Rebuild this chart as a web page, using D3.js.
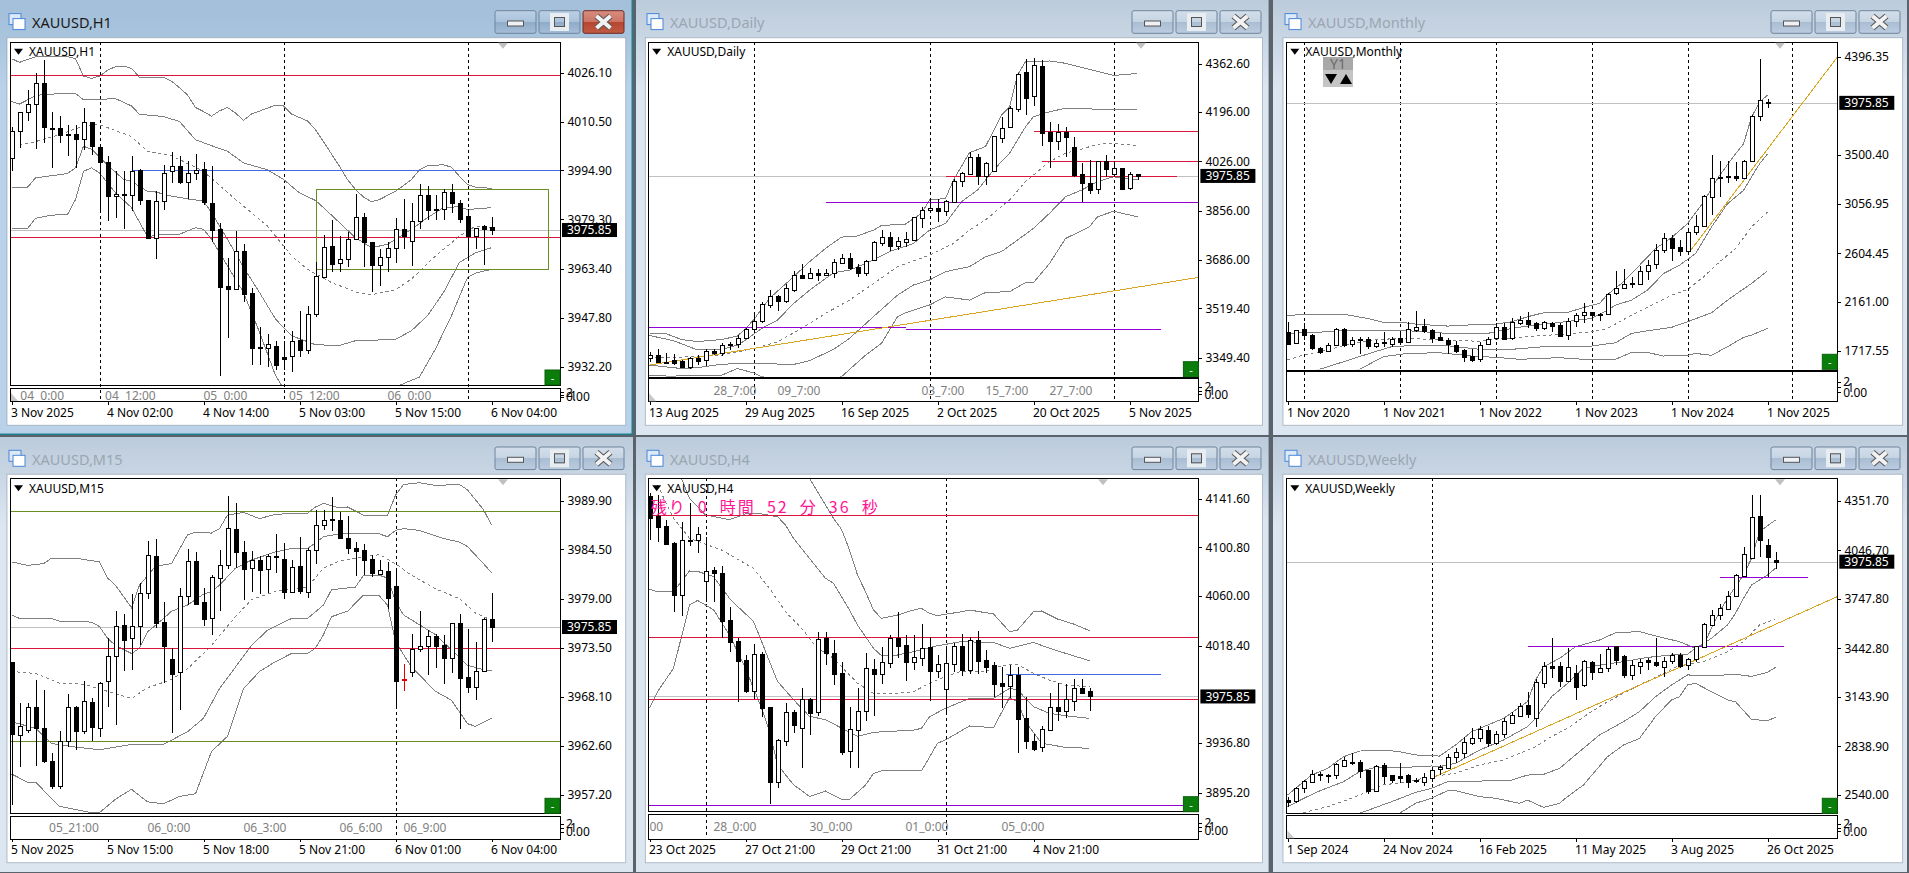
<!DOCTYPE html>
<html lang="en">

<head>
    <meta charset="UTF-8">
    <script src="https://d3js.org/d3.v7.min.js"></script>
    <title>XAUUSD charts</title>
    <style>
        body { margin: 0; background: #5a626c; overflow: hidden; }
        svg { display: block; }
        text { font-family: "Noto Sans", "Open Sans", sans-serif; font-size: 12px; fill: #000; }
        .axis path { display: none; }
        .axis line { stroke: #000; shape-rendering: crispEdges; }
        .axis text { font-size: 12px; font-family: "Noto Sans", sans-serif; fill: #000; }
    </style>
</head>

<body>
    <script>
        // bars are [open, high, low, close]
        const h1Bars = [
            [3998.9, 4008.9, 3994.6, 4007.6], [4007.6, 4013.4, 4002.0, 4013.4], [4013.4, 4020.6, 4010.8, 4016.0], [4016.0, 4025.9, 4001.7, 4022.7], [4022.7, 4030.3, 4003.6, 4008.6],
            [4008.4, 4013.5, 3995.7, 4008.3], [4008.5, 4012.3, 4003.6, 4006.1], [4006.5, 4009.5, 3999.4, 4006.1], [4006.6, 4009.5, 3995.7, 4004.8], [4004.8, 4014.8, 4001.5, 4010.3],
            [4010.3, 4010.3, 3999.7, 4002.6], [4002.5, 4002.5, 3982.2, 3997.5], [3997.6, 3999.4, 3978.7, 3986.7], [3986.7, 3994.8, 3979.8, 3987.5], [3987.5, 3994.6, 3976.1, 3987.1],
            [3987.0, 3999.6, 3981.9, 3994.7], [3994.9, 3995.4, 3983.7, 3985.6], [3985.5, 3985.6, 3973.1, 3973.3], [3973.3, 3988.2, 3966.5, 3985.2], [3985.2, 3996.5, 3982.4, 3994.1],
            [3994.6, 4000.9, 3990.9, 3996.2], [3996.4, 3999.4, 3990.7, 3991.1], [3991.1, 3997.8, 3985.9, 3994.2], [3994.1, 4000.1, 3991.7, 3995.1], [3995.4, 3997.5, 3983.7, 3984.8],
            [3984.5, 3996.4, 3972.0, 3975.8], [3976.1, 3978.0, 3929.1, 3957.7], [3957.9, 3967.0, 3941.4, 3957.1], [3957.1, 3975.7, 3957.0, 3969.3], [3969.3, 3971.3, 3953.0, 3955.5],
            [3955.6, 3957.2, 3932.8, 3938.3], [3938.4, 3944.8, 3932.6, 3938.1], [3938.1, 3942.7, 3932.1, 3939.3], [3938.7, 3940.5, 3931.0, 3932.6], [3935.2, 3940.5, 3931.2, 3934.8],
            [3935.6, 3943.5, 3930.5, 3940.3], [3940.7, 3949.9, 3935.2, 3937.5], [3937.5, 3951.5, 3936.1, 3948.9], [3948.9, 3965.5, 3948.0, 3961.2], [3961.0, 3974.2, 3960.4, 3970.5],
            [3970.9, 3978.9, 3962.5, 3965.0], [3965.4, 3973.9, 3962.3, 3966.7], [3966.7, 3975.2, 3963.9, 3973.1], [3973.1, 3987.5, 3973.1, 3980.1], [3980.1, 3981.4, 3963.9, 3972.1],
            [3972.1, 3972.1, 3956.1, 3964.7], [3964.7, 3969.7, 3958.0, 3967.3], [3967.3, 3972.0, 3962.5, 3970.0], [3970.1, 3979.8, 3965.2, 3976.2], [3976.3, 3985.9, 3969.7, 3973.8],
            [3972.5, 3984.5, 3964.4, 3978.8], [3978.8, 3990.6, 3976.1, 3987.1], [3987.1, 3989.8, 3979.2, 3982.2], [3982.6, 3986.9, 3979.0, 3982.2], [3982.6, 3989.0, 3979.2, 3988.0],
            [3988.1, 3990.4, 3981.4, 3984.4], [3984.6, 3985.3, 3978.0, 3979.5], [3980.4, 3982.6, 3967.0, 3973.8], [3973.9, 3976.5, 3969.7, 3976.5], [3977.0, 3977.4, 3964.7, 3976.3],
            [3976.9, 3979.9, 3974.3, 3975.85]
        ];
        const h1Upper2 = [[0, 4030.6], [1, 4029.4], [3, 4031.2], [4, 4031.4], [7, 4031.2], [8, 4030.6], [9, 4025.0], [10, 4024.3], [11, 4025.0], [12, 4026.9], [13, 4028.0], [14, 4028.2], [15, 4027.5], [16, 4024.6], [19, 4024.6], [20, 4023.4], [21, 4021.3], [22, 4019.0], [23, 4015.0], [24, 4013.7], [25, 4012.2], [26, 4013.9], [27, 4015.0], [28, 4013.2], [29, 4010.9], [30, 4012.9], [32, 4014.8], [33, 4015.7], [34, 4015.5], [35, 4012.9], [37, 4010.7], [38, 4007.9], [39, 4004.1], [40, 4000.1], [41, 3996.2], [42, 3992.0], [43, 3988.8], [44, 3986.4], [45, 3984.9], [46, 3985.6], [48, 3988.2], [50, 3992.0], [51, 3995.1], [52, 3996.4], [54, 3996.7], [55, 3995.9], [56, 3993.0], [57, 3990.4], [58, 3989.5], [59, 3989.5], [60, 3989.0]];
        const h1Upper1 = [[0, 4016.9], [1, 4016.1], [3, 4018.7], [4, 4019.2], [8, 4019.5], [9, 4017.4], [13, 4017.8], [15, 4015.5], [16, 4012.8], [19, 4012.1], [21, 4010.5], [23, 4004.7], [25, 4002.8], [27, 4001.0], [29, 3997.3], [32, 3995.1], [34, 3992.0], [36, 3987.7], [38, 3985.3], [39, 3983.0], [41, 3978.2], [43, 3973.4], [45, 3970.2], [47, 3971.3], [50, 3976.1], [52, 3979.8], [54, 3983.0], [56, 3983.3], [57, 3982.4], [60, 3983.0]];
        const h1Mid = [[1, 4002.9], [3, 4004.1], [6, 4006.3], [9, 4009.1], [11, 4009.5], [15, 4005.7], [17, 4001.0], [20, 3999.6], [24, 3994.6], [28, 3985.6], [32, 3977.1], [35, 3967.6], [37, 3963.3], [40, 3959.1], [43, 3956.1], [45, 3955.2], [48, 3956.8], [50, 3960.2], [53, 3967.6], [56, 3973.9], [58, 3977.1], [60, 3976.7]];
        const h1Lower1 = [[0, 3989.5], [2, 3989.5], [3, 3992.5], [7, 3993.9], [8, 3995.7], [9, 4002.6], [10, 4001.7], [12, 3996.7], [14, 3992.0], [15, 3991.4], [17, 3988.2], [18, 3988.0], [20, 3986.7], [22, 3985.8], [24, 3985.1], [25, 3981.4], [27, 3972.9], [29, 3963.9], [31, 3955.9], [33, 3947.4], [35, 3942.1], [38, 3939.2], [41, 3939.0], [43, 3940.5], [48, 3940.9], [50, 3943.7], [52, 3948.5], [54, 3955.9], [56, 3965.5], [58, 3968.6], [60, 3970.2]];
        const h1Lower2 = [[0, 3976.3], [2, 3976.3], [3, 3979.6], [5, 3980.6], [7, 3980.8], [8, 3985.6], [9, 3994.6], [10, 3995.7], [11, 3994.1], [13, 3987.7], [15, 3983.0], [17, 3973.7], [19, 3974.5], [21, 3974.5], [23, 3976.6], [24, 3976.1], [25, 3972.9], [27, 3964.4], [29, 3955.9], [31, 3943.2], [33, 3929.4], [34, 3925.2], [38, 3922], [45, 3922], [49, 3926.8], [51, 3928.9], [53, 3937.9], [55, 3948.5], [57, 3960.7], [58, 3962.1], [60, 3963.3]];

        const dailyBars = [
            [3350, 3370, 3335, 3358], [3357, 3378, 3330, 3333], [3336, 3364, 3330, 3334], [3340, 3361, 3324, 3332], [3339, 3343, 3315, 3316], [3318, 3353, 3312, 3349], [3350, 3358, 3324, 3339], [3340, 3381, 3322, 3374],
            [3374, 3379, 3358, 3366], [3365, 3399, 3355, 3394], [3397, 3404, 3376, 3394], [3397, 3427, 3384, 3419], [3419, 3453, 3415, 3449], [3449, 3508, 3444, 3477], [3476, 3542, 3470, 3533], [3532, 3582, 3519, 3561],
            [3561, 3565, 3510, 3544], [3546, 3603, 3539, 3588], [3581, 3649, 3577, 3636], [3635, 3674, 3623, 3625], [3623, 3657, 3623, 3640], [3643, 3654, 3615, 3635], [3633, 3654, 3632, 3643], [3642, 3688, 3623, 3680],
            [3675, 3706, 3671, 3692], [3692, 3709, 3651, 3659], [3661, 3674, 3628, 3641], [3643, 3686, 3632, 3683], [3687, 3752, 3686, 3747], [3746, 3791, 3734, 3764], [3767, 3781, 3717, 3735], [3735, 3766, 3720, 3751],
            [3749, 3783, 3732, 3760], [3756, 3835, 3755, 3833], [3832, 3870, 3795, 3860], [3859, 3898, 3856, 3867], [3867, 3898, 3818, 3856], [3856, 3893, 3837, 3888], [3887, 3964, 3885, 3960], [3959, 3990, 3939, 3985],
            [3982, 4059, 3979, 4040], [4042, 4053, 3944, 3975], [3976, 4025, 3944, 4019], [3994, 4113, 3990, 4112], [4107, 4180, 4090, 4142], [4143, 4217, 4140, 4209], [4207, 4329, 4197, 4326], [4333, 4380, 4186, 4245],
            [4252, 4382, 4217, 4357], [4353, 4374, 4080, 4125], [4126, 4161, 4004, 4097], [4095, 4155, 4065, 4126], [4127, 4143, 4042, 4111], [4075, 4109, 3973, 3979], [3981, 4019, 3887, 3952], [3951, 4030, 3913, 3928],
            [3932, 4027, 3913, 4026], [4026, 4048, 3973, 4001], [3983, 4027, 3973, 4002], [4002, 4004, 3927, 3931], [3934, 3990, 3927, 3981], [3981, 3982, 3962, 3975.85]
        ];
        const dailyUpper2 = [[0, 3433], [2, 3433], [4, 3412], [6, 3405], [9, 3412], [11, 3424], [12, 3450], [13, 3479], [15, 3554], [18, 3628], [20, 3680], [22, 3726], [24, 3765], [26, 3769], [28, 3789], [29, 3805], [32, 3810], [34, 3847], [35, 3893], [37, 3898], [38, 3962], [40, 4056], [42, 4077], [44, 4186], [45, 4214], [46, 4324], [47, 4369], [49, 4369], [50, 4372], [52, 4364], [55, 4343], [58, 4322], [61, 4329]];
        const dailyUpper1 = [[0, 3426], [3, 3408], [6, 3376], [9, 3378], [11, 3393], [12, 3410], [14, 3450], [16, 3479], [18, 3536], [20, 3582], [23, 3642], [25, 3651], [28, 3686], [30, 3715], [33, 3743], [35, 3789], [37, 3812], [39, 3887], [41, 3927], [43, 3996], [45, 4054], [47, 4145], [48, 4180], [50, 4197], [52, 4209], [56, 4206], [61, 4205]];
        const dailyMid = [[0, 3349], [6, 3353], [9, 3358], [13, 3381], [16, 3404], [19, 3450], [22, 3502], [25, 3548], [28, 3605], [31, 3663], [35, 3703], [38, 3743], [40, 3789], [42, 3824], [45, 3893], [47, 3956], [50, 4025], [52, 4054], [54, 4068], [56, 4085], [58, 4088], [61, 4080]];
        const dailyLower1 = [[0, 3324], [4, 3312], [6, 3315], [9, 3327], [13, 3330], [18, 3326], [20, 3339], [23, 3378], [25, 3416], [28, 3491], [31, 3565], [33, 3600], [35, 3617], [37, 3646], [40, 3663], [42, 3697], [44, 3715], [46, 3755], [48, 3795], [50, 3847], [52, 3904], [54, 3927], [56, 3956], [58, 3973], [61, 3962]];
        const dailyLower2 = [[0, 3287], [3, 3286], [4, 3287], [9, 3289], [11, 3312], [13, 3297], [14, 3284], [20, 3261], [24, 3284], [27, 3358], [29, 3399], [31, 3491], [32, 3504], [35, 3531], [37, 3559], [40, 3548], [42, 3574], [45, 3577], [47, 3608], [48, 3608], [50, 3674], [52, 3760], [55, 3801], [56, 3835], [58, 3854], [61, 3835]];

        const monthlyBars = [
            [1884, 1975, 1769, 1778], [1784, 1905, 1775, 1902], [1911, 1966, 1814, 1857], [1860, 1866, 1723, 1739], [1745, 1754, 1684, 1708], [1714, 1790, 1708, 1772], [1772, 1920, 1766, 1911], [1914, 1920, 1754, 1769],
            [1775, 1839, 1754, 1817], [1820, 1839, 1687, 1814], [1820, 1839, 1730, 1763], [1760, 1814, 1739, 1790], [1796, 1884, 1754, 1784], [1781, 1845, 1754, 1827], [1836, 1875, 1784, 1799], [1799, 1981, 1790, 1911],
            [1908, 2075, 1890, 1936], [1939, 2002, 1875, 1896], [1902, 1917, 1790, 1836], [1839, 1881, 1808, 1811], [1811, 1830, 1684, 1775], [1772, 1808, 1699, 1717], [1723, 1730, 1617, 1663], [1666, 1730, 1617, 1633],
            [1639, 1799, 1617, 1772], [1775, 1845, 1769, 1827], [1830, 1966, 1814, 1930], [1930, 1972, 1814, 1827], [1830, 2011, 1814, 1975], [1972, 2033, 1951, 1996], [1993, 2066, 1927, 1960], [1969, 1981, 1899, 1920],
            [1920, 1987, 1905, 1975], [1972, 1981, 1887, 1945], [1951, 1966, 1845, 1851], [1857, 2011, 1814, 1990], [1990, 2057, 1930, 2039], [2039, 2148, 1972, 2066], [2066, 2072, 2002, 2042], [2054, 2063, 1990, 2048],
            [2048, 2245, 2042, 2236], [2245, 2442, 2223, 2293], [2290, 2460, 2284, 2326], [2326, 2390, 2293, 2333], [2326, 2487, 2314, 2448], [2448, 2542, 2360, 2502], [2508, 2687, 2466, 2639], [2639, 2793, 2611, 2745],
            [2745, 2769, 2533, 2654], [2660, 2729, 2578, 2626], [2629, 2814, 2587, 2799], [2799, 2951, 2769, 2854], [2854, 3132, 2845, 3126], [3117, 3505, 2951, 3293], [3290, 3442, 3117, 3296], [3305, 3445, 3245, 3296],
            [3305, 3435, 3263, 3290], [3290, 3457, 3284, 3448], [3442, 3866, 3435, 3857], [3857, 4378, 3814, 4002], [3984, 4011, 3926, 3975.85]
        ];
        const monthlyUpper2 = [[0, 2036], [2, 2051], [7, 2051], [10, 2011], [12, 1975], [14, 1978], [16, 1960], [20, 1942], [24, 1957], [26, 1960], [28, 1981], [30, 2027], [32, 2063], [35, 2066], [37, 2111], [39, 2148], [40, 2229], [42, 2345], [44, 2496], [46, 2648], [48, 2748], [50, 2875], [52, 3072], [54, 3314], [56, 3511], [57, 3602], [58, 3844], [59, 3981], [60, 4047]];
        const monthlyUpper1 = [[0, 1875], [5, 1890], [8, 1905], [14, 1905], [20, 1875], [25, 1875], [28, 1920], [30, 1942], [33, 1966], [38, 2011], [40, 2087], [41, 2133], [43, 2178], [45, 2269], [47, 2420], [49, 2496], [51, 2602], [53, 2845], [55, 3057], [57, 3178], [59, 3420], [60, 3511]];
        const monthlyMid = [[0, 1633], [2, 1678], [5, 1724], [8, 1784], [11, 1820], [15, 1830], [18, 1820], [21, 1808], [24, 1805], [26, 1820], [30, 1845], [34, 1866], [38, 1890], [40, 1920], [43, 2042], [46, 2148], [48, 2223], [50, 2275], [52, 2390], [54, 2526], [56, 2648], [58, 2845], [60, 2981]];
        const monthlyLower1 = [[3, 1527], [4, 1548], [7, 1617], [10, 1687], [13, 1754], [16, 1766], [20, 1763], [24, 1730], [28, 1730], [32, 1754], [38, 1760], [41, 1790], [43, 1875], [45, 1899], [48, 1930], [50, 1981], [53, 2063], [55, 2178], [58, 2330], [60, 2445]];
        const monthlyLower2 = [[8, 1527], [9, 1548], [12, 1663], [15, 1693], [19, 1699], [23, 1669], [26, 1657], [29, 1639], [34, 1654], [37, 1639], [41, 1639], [43, 1702], [45, 1702], [47, 1669], [50, 1675], [51, 1693], [53, 1675], [55, 1754], [57, 1839], [58, 1860], [60, 1920]];

        const m15Bars = [
            [3972.0, 3972.0, 3956.0, 3963.9], [3963.8, 3967.4, 3960.3, 3964.8], [3964.4, 3967.4, 3964.1, 3967.0], [3967.0, 3970.0, 3960.4, 3964.6], [3964.6, 3968.9, 3960.7, 3961.0], [3960.9, 3961.8, 3957.8, 3958.2], [3958.2, 3964.3, 3957.8, 3963.2], [3963.2, 3968.4, 3962.5, 3967.0],
            [3967.0, 3967.1, 3962.2, 3964.3], [3964.3, 3969.9, 3964.0, 3967.6], [3967.5, 3968.0, 3963.2, 3964.7], [3964.6, 3969.7, 3963.6, 3969.6], [3969.8, 3974.6, 3966.9, 3972.6], [3972.6, 3977.6, 3964.9, 3976.0], [3976.1, 3977.3, 3971.0, 3974.4], [3974.6, 3979.5, 3971.1, 3976.0],
            [3976.0, 3980.7, 3973.8, 3979.6], [3979.6, 3985.4, 3979.0, 3983.9], [3983.8, 3985.6, 3975.7, 3976.3], [3976.4, 3978.6, 3969.6, 3973.7], [3972.3, 3973.5, 3964.1, 3970.6], [3970.9, 3980.2, 3966.6, 3979.3], [3979.3, 3984.5, 3978.3, 3983.2], [3983.2, 3984.2, 3978.3, 3978.4],
            [3978.6, 3980.2, 3976.0, 3976.7], [3976.8, 3981.6, 3975.0, 3981.4], [3981.3, 3984.4, 3977.6, 3982.7], [3982.7, 3990.4, 3982.3, 3986.9], [3986.8, 3989.6, 3982.4, 3984.2], [3984.2, 3985.4, 3978.8, 3982.3], [3982.4, 3984.3, 3979.7, 3983.3], [3983.3, 3983.7, 3979.5, 3982.2],
            [3982.3, 3984.0, 3979.6, 3983.8], [3983.7, 3986.2, 3981.9, 3983.6], [3983.4, 3985.2, 3979.0, 3979.7], [3979.7, 3983.3, 3979.6, 3982.5], [3982.6, 3985.9, 3979.5, 3979.9], [3979.8, 3984.6, 3979.1, 3984.4], [3984.4, 3988.9, 3982.9, 3987.2], [3987.2, 3988.9, 3986.6, 3987.8],
            [3987.9, 3990.3, 3986.5, 3987.7], [3987.8, 3988.6, 3985.6, 3985.7], [3985.7, 3988.2, 3984.0, 3984.6], [3984.6, 3985.3, 3981.5, 3984.3], [3984.4, 3985.1, 3981.6, 3983.3], [3983.4, 3983.9, 3981.4, 3981.9], [3981.8, 3983.3, 3981.6, 3982.2], [3982.1, 3983.1, 3977.9, 3979.1],
            [3980.4, 3982.4, 3966.8, 3969.9], [3970.1, 3971.7, 3968.7, 3970.1], [3970.9, 3975.1, 3970.3, 3973.4], [3973.4, 3977.6, 3973.1, 3973.7], [3973.7, 3975.5, 3970.5, 3974.9], [3974.9, 3975.1, 3971.3, 3973.7], [3973.8, 3975.0, 3969.5, 3972.4], [3972.4, 3976.3, 3970.7, 3976.3],
            [3976.3, 3977.3, 3964.5, 3970.2], [3970.3, 3975.6, 3968.5, 3969.2], [3969.2, 3974.2, 3967.7, 3971.0], [3971.0, 3976.8, 3971.0, 3976.7], [3976.7, 3979.6, 3974.2, 3975.85]
        ];
        const m15RedBars = [49];
        const m15Upper2 = [[0, 3983.1], [2, 3982.7], [4, 3982.9], [5, 3983.5], [8, 3983.5], [11, 3983.1], [12, 3981.3], [13, 3980.5], [15, 3978.0], [16, 3980.5], [18, 3982.6], [20, 3982.9], [22, 3986.1], [23, 3986.4], [25, 3986.3], [26, 3986.8], [27, 3988.3], [29, 3988.6], [31, 3987.9], [33, 3988.4], [37, 3988.5], [38, 3989.2], [39, 3989.6], [41, 3989.1], [42, 3989.2], [44, 3988.3], [47, 3988.3], [48, 3990.5], [49, 3991.7], [51, 3991.9], [53, 3991.6], [56, 3991.7], [57, 3991.1], [59, 3988.9], [60, 3987.2]];
        const m15Upper1 = [[0, 3977.2], [1, 3976.8], [5, 3976.8], [6, 3976.5], [10, 3976.4], [11, 3975.9], [12, 3974.6], [13, 3973.8], [15, 3972.9], [16, 3973.5], [17, 3975.3], [19, 3976.8], [20, 3977.6], [22, 3978.3], [24, 3979.5], [25, 3979.8], [26, 3980.5], [28, 3982.4], [30, 3983.3], [33, 3984.2], [35, 3984.6], [37, 3984.6], [38, 3985.2], [39, 3985.9], [41, 3986.2], [43, 3986.3], [46, 3986.2], [47, 3985.9], [48, 3986.6], [49, 3986.8], [51, 3986.6], [54, 3985.7], [56, 3985.3], [57, 3984.8], [59, 3982.9], [60, 3981.9]];
        const m15Mid = [[0, 3971.1], [1, 3970.8], [3, 3970.7], [6, 3969.6], [9, 3969.5], [12, 3968.7], [15, 3967.9], [17, 3969.1], [20, 3970], [22, 3971.2], [25, 3973.8], [28, 3977], [30, 3978.9], [33, 3979.8], [37, 3980.3], [39, 3982.4], [41, 3983.2], [43, 3983.5], [46, 3983.9], [48, 3982.9], [50, 3981.6], [53, 3980.1], [56, 3979], [58, 3977.4], [60, 3976.6]];
        const m15Lower1 = [[0, 3965.3], [3, 3964.6], [5, 3962.9], [8, 3962.5], [11, 3962.2], [15, 3962.8], [19, 3962.8], [22, 3964.2], [24, 3965.7], [26, 3969], [28, 3971.4], [30, 3973.8], [32, 3975.5], [35, 3976.8], [37, 3976.8], [39, 3978.3], [40, 3980], [43, 3980.3], [44, 3981.6], [46, 3981.6], [47, 3981.3], [48, 3978.7], [49, 3977.2], [53, 3975], [55, 3973.3], [57, 3971.6], [59, 3971.1], [60, 3971]];
        const m15Lower2 = [[0, 3959.5], [2, 3958.6], [3, 3958.6], [6, 3955.9], [10, 3955.2], [11, 3955.2], [13, 3956.7], [15, 3957.8], [17, 3956.4], [19, 3956.2], [21, 3957], [23, 3957.3], [25, 3962], [27, 3963.7], [29, 3969], [31, 3970.9], [33, 3972], [35, 3972.9], [37, 3972.9], [38, 3973.5], [39, 3975], [40, 3977], [42, 3977.6], [44, 3979.4], [46, 3979.3], [47, 3978.3], [48, 3974.2], [50, 3971.4], [53, 3968.7], [55, 3967.7], [57, 3965.1], [58, 3964.8], [60, 3965.7]];

        const h4Bars = [
            [4143.9, 4146, 4107, 4125.7], [4127.1, 4144.7, 4105.6, 4118.2], [4118.7, 4123.8, 4102.8, 4103.9], [4104.2, 4105, 4046.9, 4060.6], [4060.6, 4121.8, 4043.6, 4107.3], [4105.9, 4137.7, 4102, 4107.3], [4107.3, 4117.9, 4096.4, 4111.7], [4072.3, 4109.8, 4055.3, 4081.3],
            [4081.8, 4084.1, 4055.3, 4079.6], [4079.3, 4085.2, 4024.6, 4039.4], [4039.7, 4050.6, 4013.4, 4021.8], [4022.3, 4024.6, 3971.5, 4005.8], [4006.1, 4010.6, 3978.5, 3980.7], [3980.7, 4019.5, 3973.4, 4011.2], [4011.2, 4013.4, 3958.9, 3966.5], [3966.7, 3967.3, 3885.7, 3904.4],
            [3904.4, 3940.2, 3899.4, 3939.1], [3938.8, 3970.1, 3934.6, 3962.5], [3962.5, 3964.5, 3944.9, 3952.2], [3949.1, 3982.7, 3915.6, 3973.4], [3973.4, 3974.3, 3943.5, 3962.3], [3962.5, 4030.2, 3959.7, 4023.7], [4024.6, 4030.2, 4002.2, 4012.5], [4012, 4023.2, 3985.4, 3994.9],
            [3995.2, 4005, 3926.8, 3929.6], [3930.4, 3967.3, 3915.6, 3948.3], [3947.5, 3982.7, 3915.6, 3963.4], [3963.4, 4012, 3955.6, 3999.4], [3998.6, 4007.2, 3959.7, 3994.7], [3994.9, 4017.6, 3986.3, 4004.4], [4004.2, 4027.4, 4000, 4024.6], [4025.1, 4046.4, 4008.4, 4018.4],
            [4019, 4027.4, 3988.8, 4005], [4005, 4027.4, 3998, 4008.6], [4008.4, 4036.3, 4001.7, 4016.2], [4017, 4026, 3972.3, 3997.5], [3997.5, 4010.6, 3991, 4002.8], [3982.4, 4016.2, 3961.7, 4003.6], [4003.3, 4020.4, 3996.6, 4017.9], [4017.9, 4028.2, 3993.3, 3998],
            [3998.3, 4026, 3994.4, 4023.2], [4022.9, 4030.7, 3994.4, 4005.8], [4006.1, 4014.8, 3995.2, 4000.5], [4001.9, 4005, 3975.1, 3986.6], [3986.8, 4000.3, 3966.5, 3984.9], [3984.9, 4002.2, 3974.3, 3993.8], [3993.8, 4000.3, 3928.7, 3957.2], [3957.5, 3975.7, 3931.8, 3938.2],
            [3938.2, 3944.4, 3930.4, 3932.1], [3933.8, 3951.1, 3929.6, 3948.3], [3948, 3978.5, 3946.9, 3966.7], [3966.7, 3986.8, 3955.6, 3963.7], [3963.9, 3986, 3957.5, 3973.4], [3972.3, 3990.2, 3963.7, 3982.7], [3982.7, 3990.2, 3977.6, 3978.7], [3980.1, 3982.7, 3963.7, 3975.85]
        ];
        const h4Upper2 = [[19, 4169.9], [20, 4158.7], [21, 4147.5], [22, 4136.3], [23, 4125.2], [24, 4115.9], [25, 4098.6], [26, 4077.6], [27, 4063.7], [28, 4048.3], [29, 4041.3], [31, 4044.1], [33, 4048.3], [34, 4049.7], [35, 4045.5], [36, 4043.6], [39, 4046.9], [40, 4048.3], [43, 4045], [45, 4030.2], [46, 4031.5], [48, 4046.9], [49, 4047.5], [51, 4040.8], [53, 4036.6], [55, 4031]];
        const h4Upper1 = [[4, 4158.7], [5, 4141.9], [7, 4128], [10, 4124], [12, 4128.8], [14, 4128.8], [16, 4126.5], [17, 4119.6], [18, 4108.4], [20, 4091.6], [22, 4074.9], [23, 4070.7], [25, 4048.3], [26, 4035.7], [28, 4016.2], [29, 4010], [31, 4010.6], [33, 4013.4], [36, 4018.4], [39, 4021.8], [42, 4021.2], [43, 4021.2], [45, 4016.2], [48, 4021.2], [50, 4016.2], [52, 4012], [55, 4005.8]];
        const h4Mid = [[1, 4153.1], [3, 4125.2], [5, 4108.4], [9, 4098.6], [13, 4083.2], [15, 4066.5], [17, 4046.9], [19, 4033], [21, 4016.2], [23, 4007.8], [26, 3986.9], [28, 3978.5], [31, 3978.5], [33, 3979.9], [35, 3986.9], [37, 3992.4], [39, 3997.2], [42, 3996.6], [44, 4001.7], [46, 4002.8], [48, 3995.2], [50, 3989.6], [52, 3985.4], [55, 3984]];
        const h4Lower1 = [[0, 4065.6], [1, 4063.7], [3, 4063.7], [5, 4081], [6, 4080.7], [8, 4076.3], [10, 4058.1], [11, 4051.4], [13, 4038.8], [14, 4022.1], [15, 4005.3], [16, 3988.5], [18, 3973.2], [20, 3959.2], [22, 3956.4], [24, 3949.4], [26, 3942.4], [28, 3945.8], [33, 3947.7], [34, 3949.1], [35, 3958.9], [37, 3965.9], [40, 3974.3], [43, 3974.3], [45, 3982.7], [46, 3981.3], [48, 3967.3], [50, 3961.7], [52, 3959.7], [55, 3957.5]];
        const h4Lower2 = [[0, 3965.9], [1, 3979.9], [3, 3999.4], [5, 4052.5], [6, 4056.4], [8, 4048.6], [10, 4027.4], [12, 3999.4], [14, 3966.2], [15, 3946.6], [16, 3918.7], [18, 3901.9], [20, 3892.1], [22, 3896.6], [24, 3889.6], [25, 3889.6], [27, 3901.6], [28, 3911.4], [29, 3913.4], [34, 3913.4], [36, 3936.6], [37, 3939.4], [40, 3951.1], [43, 3949.7], [45, 3974.8], [46, 3971.5], [47, 3954.7], [49, 3936.6], [52, 3933.2], [55, 3932.4]];

        const weeklyBars = [
            [2507, 2528, 2466, 2497], [2503, 2589, 2486, 2583], [2583, 2630, 2548, 2626], [2620, 2692, 2616, 2665], [2659, 2681, 2624, 2665], [2661, 2665, 2610, 2655], [2659, 2733, 2636, 2727], [2718, 2774, 2712, 2751],
            [2741, 2794, 2723, 2735], [2739, 2753, 2640, 2688], [2690, 2692, 2542, 2564], [2564, 2723, 2562, 2718], [2721, 2733, 2605, 2653], [2659, 2661, 2610, 2630], [2655, 2733, 2610, 2644], [2659, 2665, 2583, 2620],
            [2630, 2644, 2610, 2624], [2620, 2671, 2595, 2646], [2644, 2706, 2620, 2690], [2696, 2723, 2661, 2710], [2706, 2788, 2696, 2774], [2774, 2825, 2733, 2801], [2799, 2897, 2764, 2862], [2860, 2948, 2846, 2887],
            [2887, 2963, 2866, 2942], [2936, 2963, 2833, 2860], [2860, 2932, 2846, 2916], [2916, 3010, 2887, 2992], [2983, 3051, 2979, 3029], [3027, 3103, 3020, 3088], [3090, 3174, 3010, 3039], [3010, 3250, 2959, 3236],
            [3230, 3359, 3195, 3331], [3331, 3507, 3257, 3322], [3331, 3359, 3205, 3242], [3242, 3441, 3236, 3328], [3287, 3339, 3123, 3205], [3218, 3370, 3205, 3361], [3355, 3363, 3246, 3294], [3298, 3404, 3294, 3318],
            [3318, 3452, 3298, 3435], [3454, 3458, 3339, 3370], [3394, 3400, 3257, 3279], [3275, 3370, 3246, 3341], [3335, 3376, 3281, 3359], [3367, 3380, 3308, 3355], [3357, 3503, 3329, 3341], [3325, 3390, 3267, 3366],
            [3366, 3411, 3343, 3398], [3398, 3411, 3322, 3333], [3339, 3380, 3308, 3374], [3374, 3458, 3359, 3454], [3448, 3596, 3442, 3590], [3583, 3678, 3579, 3645], [3645, 3715, 3616, 3688], [3686, 3795, 3684, 3762],
            [3762, 3897, 3756, 3891], [3889, 4064, 3883, 4021], [3996, 4387, 3992, 4249], [4255, 4387, 4004, 4111], [4076, 4113, 3883, 4006], [3984, 4033, 3930, 3975.85]
        ];
        const weeklyUpper2 = [[0, 2538], [1, 2579], [3, 2661], [5, 2702], [7, 2774], [9, 2809], [12, 2815], [14, 2805], [16, 2785], [19, 2778], [21, 2846], [23, 2928], [25, 2969], [27, 3010], [30, 3113], [31, 3247], [32, 3329], [34, 3380], [36, 3452], [39, 3493], [41, 3538], [44, 3545], [46, 3518], [49, 3483], [51, 3442], [52, 3462], [54, 3668], [55, 3750], [57, 3894], [58, 3996], [59, 4161], [61, 4233]];
        const weeklyUpper1 = [[0, 2466], [2, 2517], [4, 2563], [7, 2620], [9, 2682], [11, 2709], [15, 2709], [18, 2717], [19, 2713], [21, 2733], [24, 2815], [27, 2877], [30, 2959], [31, 3010], [33, 3144], [35, 3226], [37, 3319], [39, 3339], [42, 3360], [45, 3386], [48, 3401], [50, 3405], [51, 3442], [53, 3504], [55, 3586], [56, 3658], [57, 3750], [58, 3832], [60, 3894], [61, 3935]];
        const weeklyMid = [[2, 2429], [5, 2466], [8, 2518], [12, 2600], [15, 2620], [18, 2651], [21, 2672], [24, 2723], [27, 2754], [31, 2836], [33, 2898], [35, 2949], [38, 3052], [40, 3113], [42, 3165], [44, 3216], [47, 3288], [49, 3339], [52, 3360], [55, 3421], [57, 3483], [59, 3586], [61, 3623]];
        const weeklyLower1 = [[9, 2425], [13, 2497], [16, 2554], [18, 2579], [20, 2620], [24, 2624], [28, 2630], [30, 2661], [32, 2665], [34, 2702], [36, 2785], [39, 2908], [42, 2990], [44, 3052], [46, 3144], [48, 3216], [50, 3278], [53, 3273], [56, 3282], [58, 3269], [60, 3294], [61, 3325]];
        const weeklyLower2 = [[14, 2425], [16, 2487], [18, 2518], [20, 2565], [21, 2565], [24, 2528], [26, 2518], [29, 2487], [30, 2507], [32, 2462], [34, 2487], [35, 2528], [37, 2600], [40, 2774], [42, 2846], [44, 2887], [46, 3021], [48, 3124], [49, 3144], [50, 3216], [51, 3226], [53, 3175], [55, 3124], [56, 3113], [58, 3004], [60, 2996], [61, 3017]];

        // price axis labels
        const h1Ticks = [4026.10, 4010.50, 3994.90, 3979.30, 3963.40, 3947.80, 3932.20];
        const dailyTicks = [4362.60, 4196.00, 4026.00, 3856.00, 3686.00, 3519.40, 3349.40];
        const monthlyTicks = [4396.35, 3500.40, 3056.95, 2604.45, 2161.00, 1717.55];
        const m15Ticks = [3989.90, 3984.50, 3979.00, 3973.50, 3968.10, 3962.60, 3957.20];
        const h4Ticks = [4141.60, 4100.80, 4060.00, 4018.40, 3936.80, 3895.20];
        const weeklyTicks = [4351.70, 4046.70, 3747.80, 3442.80, 3143.90, 2838.90, 2540.00];

        // time axis labels, one every 12 bars
        const h1Dates = ['3 Nov 2025', '4 Nov 02:00', '4 Nov 14:00', '5 Nov 03:00', '5 Nov 15:00', '6 Nov 04:00'];
        const dailyDates = ['13 Aug 2025', '29 Aug 2025', '16 Sep 2025', '2 Oct 2025', '20 Oct 2025', '5 Nov 2025'];
        const monthlyDates = ['1 Nov 2020', '1 Nov 2021', '1 Nov 2022', '1 Nov 2023', '1 Nov 2024', '1 Nov 2025'];
        const m15Dates = ['5 Nov 2025', '5 Nov 15:00', '5 Nov 18:00', '5 Nov 21:00', '6 Nov 01:00', '6 Nov 04:00'];
        const h4Dates = ['23 Oct 2025', '27 Oct 21:00', '29 Oct 21:00', '31 Oct 21:00', '4 Nov 21:00'];
        const weeklyDates = ['1 Sep 2024', '24 Nov 2024', '16 Feb 2025', '11 May 2025', '3 Aug 2025', '26 Oct 2025'];

        const bid = 3975.85;
        const RED = '#dc143c', BLUE = '#4169e1', PURPLE = '#9400d3', OLIVE = '#6b8e23', GOLD = '#daa520';

        // window frames, by column and row
        const cols = [
            { x: -2, w: 635, cl: 7, cr: 625.7, btn: 624, icon: 9, text: 32, pl: 10, pr: 560 },
            { x: 636, w: 632.6, cl: 645.4, cr: 1262.5, btn: 1261, icon: 647, text: 670, pl: 648.2, pr: 1198.4 },
            { x: 1273, w: 634, cl: 1283, cr: 1902.6, btn: 1900, icon: 1285, text: 1308, pl: 1286.3, pr: 1837.3 }
        ];
        const rows = [
            { y: 0, h: 435, ct: 37.7, cb: 425.3, btn: 10.7, text: 22.6, labelY: 412.7 },
            { y: 437, h: 435, ct: 474.3, cb: 862.7, btn: 447, text: 459.3, labelY: 849.7 }
        ];

        const panels = [
            {
                title: 'XAUUSD,H1', col: 0, row: 0, active: true, bars: h1Bars, ticks: h1Ticks, dates: h1Dates,
                bands: [h1Upper2, h1Upper1, h1Mid, h1Lower1, h1Lower2],
                x0: 11.5, yr: [72.7, 366.7], top: 41.7, bottom: 385, subT: 387.7, subB: 401, tri: 503,
                vlines: [11, 34, 57],
                levels: [[4025.4, RED], [3973.7, RED], [3994.9, BLUE, 15]],
                box: [38, 67, 3989.0, 3963.6],
                subLabels: [[1.1, '04  0:00'], [11.7, '04  12:00'], [24, '05  0:00'], [34.7, '05  12:00'], [47, '06  0:00']], corner: true
            },
            {
                title: 'XAUUSD,Daily', col: 1, row: 0, bars: dailyBars, ticks: dailyTicks, dates: dailyDates,
                bands: [dailyUpper2, dailyUpper1, dailyMid, dailyLower1, dailyLower2],
                x0: 649.5, yr: [63.7, 357.7], top: 41.7, bottom: 376.7, subT: 378.3, subB: 401.3, tri: 1141,
                vlines: [13, 35, 58],
                levels: [[4129, RED, 48], [4026, RED, 49], [3974, RED, 37, 65.9], [3885, PURPLE, 22], [3454, PURPLE, -3, 32], [3450, PURPLE, 32, 63.9]],
                trend: [0, 3324, 68.6, 3626],
                subLabels: [[8, '28_7:00'], [16, '09_7:00'], [34, '03_7:00'], [42, '15_7:00'], [50, '27_7:00']], corner: true
            },
            {
                title: 'XAUUSD,Monthly', col: 2, row: 0, bars: monthlyBars, ticks: monthlyTicks, dates: monthlyDates,
                bands: [monthlyUpper2, monthlyUpper1, monthlyMid, monthlyLower1, monthlyLower2],
                x0: 1287.5, yr: [56.7, 350.7], tickEnds: [4396.35, 1717.55], top: 41.7, bottom: 369.3, subT: 371.3, subB: 401.3, tri: 1780,
                vlines: [2, 14, 26, 38, 50, 63],
                levels: [], trend: [50.4, 2632, 68.7, 4390], subLabels: [], y1: true
            },
            {
                title: 'XAUUSD,M15', col: 0, row: 1, bars: m15Bars, redBars: m15RedBars, ticks: m15Ticks, dates: m15Dates,
                bands: [m15Upper2, m15Upper1, m15Mid, m15Lower1, m15Lower2],
                x0: 11.5, yr: [500.7, 794.7], top: 478.3, bottom: 813.3, subT: 815.7, subB: 838.3, tri: 503,
                vlines: [48],
                levels: [[3988.8, OLIVE], [3963.2, OLIVE], [3973.5, RED]],
                subLabels: [[4.7, '05_21:00'], [17, '06_0:00'], [29, '06_3:00'], [41, '06_6:00'], [49, '06_9:00']]
            },
            {
                title: 'XAUUSD,H4', col: 1, row: 1, bars: h4Bars, ticks: h4Ticks, dates: h4Dates,
                bands: [h4Upper2, h4Upper1, h4Mid, h4Lower1, h4Lower2],
                x0: 649.5, yr: [498.7, 792.7], top: 478.3, bottom: 811.7, subT: 813.7, subB: 838.3, tri: 1103,
                vlines: [7, 37],
                levels: [[4127.7, RED], [4025.4, RED], [3973.4, RED], [3995, BLUE, 44.5, 54.1], [3994.4, BLUE, 54.1, 63.9], [3884.6, PURPLE]],
                subLabels: [[0, '00'], [8, '28_0:00'], [20, '30_0:00'], [32, '01_0:00'], [44, '05_0:00']],
                countdown: '残り  0  時間  52  分  36  秒'
            },
            {
                title: 'XAUUSD,Weekly', col: 2, row: 1, bars: weeklyBars, ticks: weeklyTicks, dates: weeklyDates,
                bands: [weeklyUpper2, weeklyUpper1, weeklyMid, weeklyLower1, weeklyLower2],
                x0: 1287.5, yr: [500.7, 794.7], top: 478.3, bottom: 813.3, subT: 815.3, subB: 838.3, tri: 1780,
                vlines: [18],
                levels: [[3883, PURPLE, 54, 65], [3454, PURPLE, 30, 62]],
                trend: [18, 2641, 68.7, 3760], subLabels: [], corner: true
            }
        ];

        const svg = d3.select('body').append('svg').attr('width', 1909).attr('height', 873);
        const defs = svg.append('defs');

        function gradient(id, stops) {
            const g = defs.append('linearGradient').attr('id', id).attr('x1', 0).attr('y1', 0).attr('x2', 0).attr('y2', 1);
            stops.forEach((s) => g.append('stop').attr('offset', s[0]).attr('stop-color', s[1]));
        }
        gradient('frameActive', [[0, '#a3bfd9'], [0.09, '#a9c4dd'], [0.2, '#b9d2e9'], [1, '#b9d2e9']]);
        gradient('frameIdle', [[0, '#bccbdb'], [0.09, '#c9d6e4'], [0.2, '#dbe6f1'], [1, '#dbe6f1']]);
        gradient('btnIdle', [[0, '#d3deea'], [0.48, '#c6d4e3'], [0.5, '#a9bdd2'], [1, '#bccce0']]);
        gradient('btnActive', [[0, '#bcd0e6'], [0.48, '#aac3dc'], [0.5, '#8fabc9'], [1, '#a5bdd8']]);
        gradient('btnClose', [[0, '#d98d7f'], [0.48, '#cc7565'], [0.5, '#b5452e'], [1, '#c05b45']]);

        function drawButtons(g, col, row, active) {
            const w = 41, h = 22.6;
            [col.btn - 129, col.btn - 85, col.btn - 41].forEach((bx, i) => {
                const fill = active && i === 2 ? 'url(#btnClose)' : (active ? 'url(#btnActive)' : 'url(#btnIdle)');
                g.append('rect').attr('x', bx).attr('y', row.btn).attr('width', w).attr('height', h).attr('rx', 2)
                    .attr('fill', fill).attr('stroke', active && i === 2 ? '#6e2a22' : '#6f859c');
                const cx = bx + w / 2, cy = row.btn + h / 2;
                if (i === 0) {
                    g.append('rect').attr('x', cx - 8).attr('y', cy - 1).attr('width', 16).attr('height', 5)
                        .attr('fill', '#eef2f6').attr('stroke', '#555');
                } else if (i === 1) {
                    g.append('rect').attr('x', cx - 7.5).attr('y', cy - 7).attr('width', 15).attr('height', 14)
                        .attr('fill', 'none').attr('stroke', '#e8edf2').attr('stroke-width', 4);
                    g.append('rect').attr('x', cx - 5).attr('y', cy - 4.5).attr('width', 10).attr('height', 9)
                        .attr('fill', 'none').attr('stroke', '#555');
                } else {
                    g.append('path').attr('d', `M${cx - 7},${cy - 6}L${cx + 7},${cy + 6}M${cx + 7},${cy - 6}L${cx - 7},${cy + 6}`)
                        .attr('stroke', '#555').attr('stroke-width', 6);
                    g.append('path').attr('d', `M${cx - 7},${cy - 6}L${cx + 7},${cy + 6}M${cx + 7},${cy - 6}L${cx - 7},${cy + 6}`)
                        .attr('stroke', '#f2f2f2').attr('stroke-width', 4);
                }
            });
        }

        function drawWindow(p) {
            const col = cols[p.col], row = rows[p.row];
            const g = svg.append('g');
            g.append('rect').attr('x', col.x).attr('y', row.y).attr('width', col.w).attr('height', row.h)
                .attr('fill', p.active ? 'url(#frameActive)' : 'url(#frameIdle)');
            if (p.active) {
                g.append('rect').attr('x', col.x).attr('y', row.y + row.h - 1.5).attr('width', col.w).attr('height', 1.5).attr('fill', '#1f7f8c');
                g.append('rect').attr('x', col.x + col.w - 1.5).attr('y', row.y).attr('width', 1.5).attr('height', row.h).attr('fill', '#1f7f8c');
            }
            g.append('rect').attr('x', col.cl).attr('y', row.ct).attr('width', col.cr - col.cl).attr('height', row.cb - row.ct)
                .attr('fill', '#fff').attr('stroke', '#8a9aaa').attr('stroke-opacity', 0.6);
            // title icon
            g.append('rect').attr('x', col.icon).attr('y', row.text - 9).attr('width', 12).attr('height', 11)
                .attr('fill', '#dceaf8').attr('stroke', '#4a86d8');
            g.append('rect').attr('x', col.icon + 4).attr('y', row.text - 4).attr('width', 12).attr('height', 11)
                .attr('fill', '#fff').attr('stroke', '#4a86d8');
            g.append('text').attr('x', col.text).attr('y', row.text).attr('dy', '0.36em')
                .style('font-size', '14.5px').style('fill', p.active ? '#1a1a1a' : '#9ba6b1').text(p.title);
            drawButtons(g, col, row, p.active);
        }

        function drawPanel(p, idx) {
            const col = cols[p.col], row = rows[p.row];
            const left = col.pl, right = col.pr;
            const x = (i) => xscale(i);
            const xscale = d3.scaleLinear().domain([0, 1]).range([p.x0, p.x0 + 8]);
            const ends = p.tickEnds || [p.ticks[0], p.ticks[p.ticks.length - 1]];
            const yscale = d3.scaleLinear().domain(ends).range(p.yr);
            const snap = (v) => Math.round(v) + 0.5;

            const g = svg.append('g');
            defs.append('clipPath').attr('id', 'plot' + idx).append('rect')
                .attr('x', left).attr('y', p.top).attr('width', right - left).attr('height', p.bottom - p.top);

            // vertical separators go through both the main and the sub window
            p.vlines.forEach((i) => {
                g.append('line').attr('x1', snap(x(i))).attr('x2', snap(x(i))).attr('y1', p.top).attr('y2', p.subB)
                    .attr('stroke', '#000').attr('stroke-dasharray', '3,3').attr('shape-rendering', 'crispEdges');
            });

            const plot = g.append('g').attr('clip-path', `url(#plot${idx})`);

            // bid line
            plot.append('line').attr('x1', left).attr('x2', right).attr('y1', snap(yscale(bid))).attr('y2', snap(yscale(bid)))
                .attr('stroke', '#c0c0c0').attr('shape-rendering', 'crispEdges');

            // bollinger bands
            const line = d3.line().x((d) => x(d[0])).y((d) => yscale(d[1]));
            plot.selectAll('path.band').data(p.bands).join('path').attr('class', 'band')
                .attr('d', line).attr('fill', 'none').attr('stroke', '#808080').attr('shape-rendering', 'crispEdges')
                .attr('stroke-dasharray', (d, i) => (i === 2 ? '3,3' : null));

            // horizontal levels: [price, colour, from bar, to bar]
            p.levels.forEach((l) => {
                const x1 = l[2] === undefined ? left : x(l[2]);
                const x2 = l[3] === undefined ? right : x(l[3]);
                plot.append('line').attr('x1', x1).attr('x2', x2).attr('y1', snap(yscale(l[0]))).attr('y2', snap(yscale(l[0])))
                    .attr('stroke', l[1]).attr('shape-rendering', 'crispEdges').attr('stroke-width', 1);
            });
            if (p.trend) {
                plot.append('line').attr('x1', x(p.trend[0])).attr('y1', yscale(p.trend[1])).attr('x2', x(p.trend[2])).attr('y2', yscale(p.trend[3]))
                    .attr('stroke', GOLD).attr('shape-rendering', 'crispEdges');
            }
            if (p.box) {
                plot.append('rect').attr('x', snap(x(p.box[0]))).attr('width', x(p.box[1]) - x(p.box[0]))
                    .attr('y', snap(yscale(p.box[2]))).attr('height', yscale(p.box[3]) - yscale(p.box[2]))
                    .attr('fill', 'none').attr('stroke', OLIVE).attr('shape-rendering', 'crispEdges');
            }

            // candles
            const candles = plot.selectAll('g.candle').data(p.bars).join('g').attr('class', 'candle')
                .attr('shape-rendering', 'crispEdges');
            const isRed = (i) => p.redBars && p.redBars.includes(i);
            candles.append('line')
                .attr('x1', (d, i) => snap(x(i))).attr('x2', (d, i) => snap(x(i)))
                .attr('y1', (d) => yscale(d[1])).attr('y2', (d) => yscale(d[2]))
                .attr('stroke', (d, i) => (isRed(i) ? '#e00000' : '#000'));
            candles.append('rect')
                .attr('x', (d, i) => snap(x(i)) - 2)
                .attr('width', 4)
                .attr('y', (d) => Math.round(yscale(Math.max(d[0], d[3]))) + 0.5)
                .attr('height', (d) => Math.max(0.5, Math.round(yscale(Math.min(d[0], d[3]))) - Math.round(yscale(Math.max(d[0], d[3])))))
                .attr('fill', (d, i) => (isRed(i) ? '#e00000' : (d[3] >= d[0] ? '#fff' : '#000')))
                .attr('stroke', (d, i) => (isRed(i) ? '#e00000' : '#000'));

            // frames of main and sub window
            g.append('rect').attr('x', snap(left)).attr('y', snap(p.top)).attr('width', Math.round(right - left)).attr('height', Math.round(p.bottom - p.top))
                .attr('fill', 'none').attr('stroke', '#000').attr('shape-rendering', 'crispEdges');
            g.append('rect').attr('x', snap(left)).attr('y', snap(p.subT)).attr('width', Math.round(right - left)).attr('height', Math.round(p.subB - p.subT))
                .attr('fill', 'none').attr('stroke', '#000').attr('shape-rendering', 'crispEdges');

            // grey shift marker and green one-click button
            g.append('path').attr('d', `M${p.tri - 5},${p.top + 1}L${p.tri + 5},${p.top + 1}L${p.tri},${p.top + 7}Z`).attr('fill', '#c0c0c0');
            g.append('rect').attr('x', right - 15).attr('y', p.bottom - 15).attr('width', 15).attr('height', 15)
                .attr('fill', '#0a7d0a').attr('stroke', '#0b5f0b');
            g.append('text').attr('x', right - 7.5).attr('y', p.bottom - 7).attr('dy', '0.36em').attr('text-anchor', 'middle')
                .style('fill', '#fff').style('font-size', '11px').text('-');

            // chart title
            const ty = p.top + 10;
            g.append('path').attr('d', `M${left + 4},${ty - 3}L${left + 13},${ty - 3}L${left + 8.5},${ty + 3}Z`).attr('fill', '#000');
            g.append('text').attr('x', left + 19).attr('y', ty).attr('dy', '0.36em').text(p.title);

            // sub window text
            p.subLabels.forEach((l) => {
                g.append('text').attr('x', x(l[0])).attr('y', (p.subT + p.subB) / 2 + 1).attr('dy', '0.36em')
                    .attr('xml:space', 'preserve').style('white-space', 'pre').style('fill', '#808080').text(l[1]);
            });
            if (p.corner) {
                g.append('path').attr('d', `M${left + 1},${p.subB - 8}L${left + 8},${p.subB}L${left + 1},${p.subB}Z`).attr('fill', '#c8c8c8');
            }

            // price axis
            const yaxis = d3.axisRight(yscale).tickValues(p.ticks).tickFormat(d3.format('.2f')).tickSize(3).tickPadding(4);
            g.append('g').attr('class', 'axis').attr('transform', `translate(${Math.round(right) + 0.5},0)`).call(yaxis);

            // current price tag
            g.append('rect').attr('x', right + 2).attr('y', yscale(bid) - 7).attr('width', 55).attr('height', 14).attr('fill', '#000');
            g.append('text').attr('x', right + 7).attr('y', yscale(bid)).attr('dy', '0.36em').style('fill', '#fff').text(d3.format('.2f')(bid));

            // sub window scale
            const h = p.subB - p.subT;
            const subAxis = [[p.subT + h * 0.36, '2', 6], [p.subB - h * 0.3, '0.00', 6], [(p.subT + p.subB) / 2 + 1, '1', 10]];
            subAxis.forEach((s) => {
                g.append('text').attr('x', right + s[2]).attr('y', s[0]).attr('dy', '0.36em').text(s[1]);
                g.append('line').attr('x1', snap(right)).attr('x2', snap(right) + 3).attr('y1', snap(s[0])).attr('y2', snap(s[0]))
                    .attr('stroke', '#000').attr('shape-rendering', 'crispEdges');
            });

            // time axis, a tick every 12 bars
            const xaxis = d3.axisBottom(xscale).tickValues(p.dates.map((d, i) => i * 12))
                .tickFormat((d) => p.dates[d / 12]).tickSize(3).tickPadding(5);
            const ga = g.append('g').attr('class', 'axis').attr('transform', `translate(0.5,${Math.round(p.subB) + 0.5})`).call(xaxis);
            ga.selectAll('text').attr('text-anchor', 'start').attr('dx', -1.5);
            ga.selectAll('text').attr('y', row.labelY - Math.round(p.subB) - 0.5).attr('dy', '0.36em');

            // timeframe switch box on the monthly chart
            if (p.y1) {
                g.append('rect').attr('x', 1323).attr('y', 57).attr('width', 30).attr('height', 30).attr('fill', '#c4c4c4');
                g.append('rect').attr('x', 1323).attr('y', 57).attr('width', 30).attr('height', 13).attr('fill', '#a8a8a8');
                g.append('text').attr('x', 1338).attr('y', 64).attr('dy', '0.36em').attr('text-anchor', 'middle')
                    .style('fill', '#6a6a6a').style('font-size', '14px').text('Y1');
                g.append('path').attr('d', 'M1325,74L1337,74L1331,84Z').attr('fill', '#000');
                g.append('path').attr('d', 'M1340,84L1352,84L1346,74Z').attr('fill', '#000');
            }

            if (p.countdown) {
                g.append('text').attr('x', 650.7).attr('y', 507).attr('dy', '0.36em').attr('xml:space', 'preserve')
                    .attr('textLength', 227).attr('lengthAdjust', 'spacing')
                    .style('white-space', 'pre').style('fill', '#ff1493').style('font-size', '16px')
                    .style('font-family', '"Noto Sans CJK JP", sans-serif').text(p.countdown);
            }
        }

        panels.forEach(drawWindow);
        panels.forEach(drawPanel);
    </script>
</body>

</html>
